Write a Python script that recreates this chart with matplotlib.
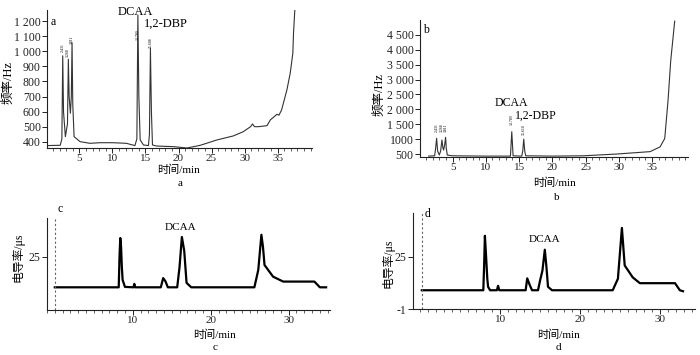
import matplotlib
matplotlib.use("Agg")
import matplotlib.pyplot as plt
from matplotlib.ticker import MultipleLocator

plt.rcParams['font.family'] = ['Liberation Serif', 'Noto Sans CJK SC']
plt.rcParams['axes.unicode_minus'] = False

# ---- data ----
# panel a: frequency (Hz) vs time (min)
t_a = [0.1, 2.1, 2.35, 2.48, 2.6, 2.88, 3.2, 3.33, 3.45, 3.64, 3.78, 3.89, 4.0, 4.2,
       5.1, 6.6, 8.1, 10.1, 12.1, 13.4, 13.7, 13.85, 14.0, 14.2, 14.7, 15.45, 15.6,
       15.75, 15.9, 16.06, 16.7, 19.2, 21.3, 23.3, 25.8, 28.3, 29.8, 30.9, 31.2, 31.5,
       32.1, 33.4, 33.9, 34.9, 35.2, 35.6, 36.4, 36.9, 37.3, 37.4, 37.6]
f_a = [376, 378, 420, 970, 600, 435, 520, 947, 700, 590, 700, 1057, 650, 435,
       402, 391, 395, 395, 391, 376, 420, 1240, 700, 413, 380, 376, 450,
       1019, 600, 380, 373, 369, 360, 378, 413, 440, 468, 501, 519, 501,
       501, 508, 546, 583, 577, 612, 744, 854, 987, 1119, 1273]

# panel b
t_b = [1.4, 2.3, 2.45, 2.6, 2.75, 3.0, 3.2, 3.4, 3.55, 3.65, 3.8, 3.95, 4.05, 4.2,
       5.0, 10.0, 13.7, 13.9, 14.1, 15.4, 15.55, 15.7, 15.85, 16.0, 20.0, 24.6,
       29.7, 34.7, 36.2, 36.9, 37.4, 37.8, 38.4]
f_b = [430, 440, 700, 1028, 600, 466, 600, 970, 700, 634, 800, 1061, 700, 466,
       440, 430, 430, 1249, 440, 430, 600, 1000, 600, 440, 430, 440,
       500, 580, 740, 1020, 2300, 3630, 4960]

# panel c: conductivity (uS) vs time (min)
t_c = [0.0, 8.2, 8.3, 8.4, 8.5, 8.6, 8.7, 9.0, 10.1, 10.2, 10.3, 13.6, 13.9, 14.2,
       14.5, 15.7, 16.0, 16.3, 16.6, 16.9, 17.5, 25.6, 26.1, 26.5, 26.7, 26.9, 28.0,
       29.3, 33.3, 34.0, 34.8]
g_c = [10.1, 10.1, 25, 34.2, 30, 20, 13.7, 10.3, 10.1, 11.8, 10.1, 10.1, 14.6, 13,
       10.1, 10.1, 20, 34.7, 28, 12.3, 10.1, 10.1, 18.6, 35.8, 30, 21, 15.3,
       12.9, 12.9, 10.1, 10.1]

# panel d
t_d = [0.2, 7.9, 8.0, 8.1, 8.25, 8.4, 8.5, 8.75, 9.6, 9.75, 9.9, 13.2, 13.4, 13.7,
       14.0, 14.75, 15.0, 15.3, 15.6, 15.8, 16.0, 16.5, 24.1, 24.75, 25.25, 25.6,
       26.6, 27.5, 31.9, 32.5, 32.9]
g_d = [8.3, 8.3, 20, 35.3, 25, 14, 10, 8.3, 8.3, 10.5, 8.3, 8.3, 14.2, 11,
       8.3, 8.3, 13, 18, 28.4, 20, 10, 8.3, 8.3, 14, 39.2, 20.6,
       14.7, 11.8, 11.8, 8.3, 7.8]

# retention-time labels above peaks
rt_a = [2.48, 3.33, 3.89, 13.85, 15.75]
rt_a_y = [1022, 990, 1074, 1107, 1060]
rt_a_txt = ['2.431', '3.268', '3.811', '13.780', '15.608']
rt_b = [2.6, 3.4, 3.95, 13.9, 15.7]
rt_b_y = [1400, 1400, 1400, 1650, 1330]
rt_b_txt = ['2.431', '3.268', '3.811', '13.789', '15.610']

yt_a = [400, 500, 600, 700, 800, 900, 1000, 1100, 1200]
yl_a = ['400', '500', '600', '700', '800', '900', '1 000', '1 100', '1 200']
yt_b = [500, 1000, 1500, 2000, 2500, 3000, 3500, 4000, 4500]
yl_b = ['500', '1000', '1 500', '2 000', '2 500', '3 000', '3 500', '4 000', '4 500']

W, H = 700, 355


def box(l, t, r, b):
    return [l / W, 1 - b / H, (r - l) / W, (b - t) / H]


def ftext(x, y, s, **kw):
    fig.text(x / W, 1 - y / H, s, ha='center', va='center', **kw)


def style(ax):
    for s in ['top', 'right']:
        ax.spines[s].set_visible(False)
    for s in ['left', 'bottom']:
        ax.spines[s].set_linewidth(0.8)
        ax.spines[s].set_color('#222222')
    ax.tick_params(which='major', direction='out', length=3.5, width=0.7,
                   labelsize=8.5, pad=1, colors='#222222')
    ax.tick_params(which='minor', direction='out', length=2, width=0.5,
                   colors='#222222')
    ax.tick_params(axis='x', labelsize=8)


fig = plt.figure(figsize=(7, 3.55), dpi=100)

# ---- a ----
ax = fig.add_axes(box(47, 10, 312, 148))
style(ax)
ax.plot(t_a, f_a, color='#333333', lw=0.8)
ax.set_xlim(0.1, 40.2)
ax.set_ylim(360, 1273)
ax.set_xticks([5, 10, 15, 20, 25, 30, 35])
ax.xaxis.set_minor_locator(MultipleLocator(1))
ax.set_yticks(yt_a, yl_a)
for x, y, s in zip(rt_a, rt_a_y, rt_a_txt):
    ax.text(x, y, s, rotation=90, fontsize=2.8, ha='center', va='center')
ax.text(0.6, 1193, 'a', fontsize=8.5, ha='left', va='center')
ax.text(13.4, 1262, 'DCAA', fontsize=9, ha='center', va='center', clip_on=False)
ax.text(14.8, 1180, '1,2-DBP', fontsize=9, ha='left', va='center')

# ---- b ----
ax = fig.add_axes(box(420, 20, 688, 157))
style(ax)
ax.plot(t_b, f_b, color='#333333', lw=0.8)
ax.set_xlim(0.1, 40.4)
ax.set_ylim(400, 5000)
ax.set_xticks([5, 10, 15, 20, 25, 30, 35])
ax.xaxis.set_minor_locator(MultipleLocator(1))
ax.set_yticks(yt_b, yl_b)
for x, y, s in zip(rt_b, rt_b_y, rt_b_txt):
    ax.text(x, y, s, rotation=90, fontsize=2.8, ha='center', va='center')
ax.text(0.5, 4666, 'b', fontsize=8.5, ha='left', va='center')
ax.text(13.8, 2214, 'DCAA', fontsize=8.5, ha='center', va='center')
ax.text(17.5, 1790, '1,2-DBP', fontsize=8.5, ha='center', va='center')

# ---- c ----
ax = fig.add_axes(box(47, 218, 330, 310))
style(ax)
ax.plot(t_c, g_c, color='black', lw=1.6)
ax.axvline(0, color='#666666', lw=0.8, ls=(0, (2, 2)))
ax.set_xlim(-1.0, 35.3)
ax.set_ylim(-1, 44)
ax.set_xticks([10, 20, 30])
ax.xaxis.set_minor_locator(MultipleLocator(1))
ax.set_yticks([25])
ax.text(0.4, 48.5, 'c', fontsize=8.5, ha='left', va='center', clip_on=False)
ax.text(16.1, 39.2, 'DCAA', fontsize=8, ha='center', va='center')

# ---- d ----
ax = fig.add_axes(box(413, 213, 695, 309))
style(ax)
ax.plot(t_d, g_d, color='black', lw=1.6)
ax.axvline(0.2, color='#666666', lw=0.8, ls=(0, (2, 2)))
ax.set_xlim(-0.9, 34.4)
ax.set_ylim(-1, 46.6)
ax.set_xticks([10, 20, 30])
ax.xaxis.set_minor_locator(MultipleLocator(1))
ax.set_yticks([-1, 25])
ax.text(0.6, 46, 'd', fontsize=8.5, ha='left', va='center', clip_on=False)
ax.text(15.6, 33.3, 'DCAA', fontsize=8, ha='center', va='center')

# ---- axis titles and captions ----
ftext(8, 83, '频率/Hz', rotation=90, fontsize=9)
ftext(379, 95, '频率/Hz', rotation=90, fontsize=9)
ftext(18, 257, '电导率/μs', rotation=90, fontsize=8.5)
ftext(388, 263, '电导率/μs', rotation=90, fontsize=8.5)

ftext(179, 170, '时间/min', fontsize=8)
ftext(180, 184, 'a', fontsize=8)
ftext(555, 183, '时间/min', fontsize=8)
ftext(557, 197, 'b', fontsize=8)
ftext(215, 335, '时间/min', fontsize=8)
ftext(215, 347, 'c', fontsize=8)
ftext(559, 335, '时间/min', fontsize=8)
ftext(558, 348, 'd', fontsize=8)

fig.savefig('out.png', dpi=100)
